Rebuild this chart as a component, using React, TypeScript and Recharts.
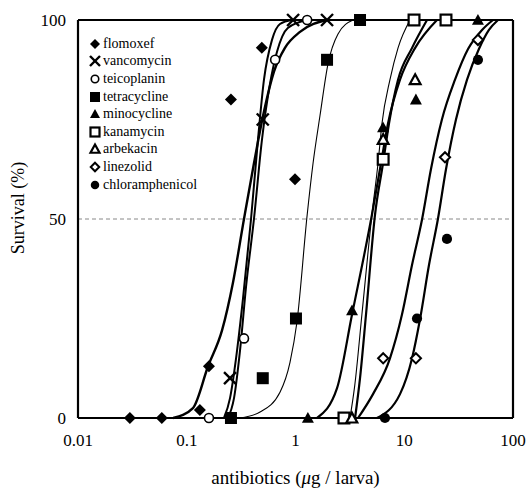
import React from "react";
import {
  ComposedChart,
  Line,
  Scatter,
  XAxis,
  YAxis,
  ReferenceLine,
  Legend,
  Label,
} from "recharts";

type Pt = { x: number; y: number };
const pts = (a: number[][]): Pt[] => a.map(([x, y]) => ({ x, y }));

// measured points (dose in µg/larva, survival %)
const flomoxefPts = pts([[0.03, 0], [0.059, 0], [0.132, 2], [0.16, 13], [0.255, 80], [0.49, 93], [0.99, 60]]);
const vancomycinPts = pts([[0.25, 10], [0.5, 75], [0.95, 100], [1.95, 100]]);
const teicoplaninPts = pts([[0.16, 0], [0.336, 20], [0.65, 90], [1.28, 100]]);
const tetracyclinePts = pts([[0.255, 0], [0.5, 10], [1.01, 25], [1.95, 90], [3.92, 100]]);
const minocyclinePts = pts([[1.3, 0], [3.31, 27], [6.38, 73], [12.8, 80], [47.6, 100]]);
const kanamycinPts = pts([[2.79, 0], [6.4, 65], [12.3, 100], [24.2, 100]]);
const arbekacinPts = pts([[3.3, 0], [6.4, 70], [12.6, 85]]);
const linezolidPts = pts([[6.4, 15], [12.8, 15], [23.7, 65.5], [47.6, 95]]);
const chloramphenicolPts = pts([[6.65, 0], [13.1, 25], [24.7, 45], [47.6, 90]]);

// fitted curves
const flomoxefFit = pts([[0.075, 0], [0.114, 2.5], [0.157, 13], [0.211, 22], [0.266, 34], [0.336, 50], [0.415, 64], [0.513, 77], [0.634, 87], [0.8, 93], [1.1, 97], [1.95, 100]]);
const vancomycinFit = pts([[0.22, 0], [0.25, 5], [0.284, 15], [0.329, 30], [0.39, 50], [0.452, 70], [0.513, 85], [0.608, 95], [0.72, 99], [0.93, 100]]);
const teicoplaninFit = pts([[0.239, 0], [0.272, 5], [0.309, 17], [0.351, 33], [0.415, 50], [0.492, 70], [0.583, 84], [0.676, 92], [0.85, 98], [1.28, 100]]);
const tetracyclineFit = pts([[0.309, 0], [0.472, 1.5], [0.72, 6.5], [0.89, 14], [1.03, 24], [1.28, 51], [1.45, 64], [1.68, 76], [1.99, 89], [2.46, 96.5], [3.38, 100]]);
const minocyclineFit = pts([[1.58, 0], [2.41, 7.5], [3.31, 26], [5.04, 51], [6.11, 64], [7.09, 74], [9.14, 85], [12.6, 93], [20.0, 100]]);
const kanamycinFit = pts([[3.17, 0], [3.5, 8], [4.08, 26], [5.04, 51], [5.74, 64], [6.24, 74], [7.39, 85], [8.77, 93], [11.3, 100]]);
const arbekacinFit = pts([[3.53, 0], [3.92, 10], [4.45, 26], [5.38, 51], [6.38, 64], [7.24, 74], [8.77, 85], [11.8, 93], [16.2, 100]]);
const linezolidFit = pts([[3.76, 0], [5.16, 6], [7.39, 15], [9.53, 26], [11.8, 38.5], [14.6, 50], [17.6, 62.5], [22.2, 75], [29.3, 85], [38.6, 92.7], [51.9, 97.5], [65.5, 100]]);
const chloramphenicolFit = pts([[5.61, 0], [9.14, 6], [11.8, 15], [14.0, 25], [16.9, 38.5], [20.4, 50], [24.2, 62.5], [29.9, 75], [37.8, 85], [48.6, 92.7], [60.1, 97.5], [72.8, 100]]);

const xTicks = [0.01, 0.1, 1, 10, 100];
const yTicks = [0, 50, 100];

type Kind =
  | "diamondFilled" | "x" | "circleOpen" | "squareFilled" | "triangleFilled"
  | "squareOpen" | "triangleOpen" | "diamondOpen" | "circleFilled";

const series: { name: string; kind: Kind; points: Pt[]; fit: Pt[]; width: number }[] = [
  { name: "flomoxef", kind: "diamondFilled", points: flomoxefPts, fit: flomoxefFit, width: 2.4 },
  { name: "vancomycin", kind: "x", points: vancomycinPts, fit: vancomycinFit, width: 2 },
  { name: "teicoplanin", kind: "circleOpen", points: teicoplaninPts, fit: teicoplaninFit, width: 2 },
  { name: "tetracycline", kind: "squareFilled", points: tetracyclinePts, fit: tetracyclineFit, width: 1.1 },
  { name: "minocycline", kind: "triangleFilled", points: minocyclinePts, fit: minocyclineFit, width: 2.2 },
  { name: "kanamycin", kind: "squareOpen", points: kanamycinPts, fit: kanamycinFit, width: 1.1 },
  { name: "arbekacin", kind: "triangleOpen", points: arbekacinPts, fit: arbekacinFit, width: 2.2 },
  { name: "linezolid", kind: "diamondOpen", points: linezolidPts, fit: linezolidFit, width: 2.2 },
  { name: "chloramphenicol", kind: "circleFilled", points: chloramphenicolPts, fit: chloramphenicolFit, width: 2.2 },
];

const FONT = "'Liberation Serif', 'Times New Roman', Times, serif";

const Marker = ({ kind, cx, cy, s }: { kind: Kind; cx: number; cy: number; s: number }) => {
  switch (kind) {
    case "diamondFilled":
      return <polygon points={`${cx},${cy - s} ${cx + s},${cy} ${cx},${cy + s} ${cx - s},${cy}`} fill="#000" />;
    case "diamondOpen":
      return <polygon points={`${cx},${cy - s * 0.85} ${cx + s * 0.85},${cy} ${cx},${cy + s * 0.85} ${cx - s * 0.85},${cy}`} fill="#fff" stroke="#000" strokeWidth={2} />;
    case "x":
      return (
        <g stroke="#000" strokeWidth={2.4}>
          <line x1={cx - s} y1={cy - s} x2={cx + s} y2={cy + s} />
          <line x1={cx - s} y1={cy + s} x2={cx + s} y2={cy - s} />
        </g>
      );
    case "circleOpen":
      return <circle cx={cx} cy={cy} r={s * 0.75} fill="#fff" stroke="#000" strokeWidth={1.6} />;
    case "circleFilled":
      return <circle cx={cx} cy={cy} r={s * 0.85} fill="#000" />;
    case "squareFilled":
      return <rect x={cx - s} y={cy - s} width={s * 2} height={s * 2} fill="#000" />;
    case "squareOpen":
      return <rect x={cx - s * 0.9} y={cy - s * 0.9} width={s * 1.8} height={s * 1.8} fill="#fff" stroke="#000" strokeWidth={2.2} />;
    case "triangleFilled":
      return <polygon points={`${cx},${cy - s} ${cx + s},${cy + s * 0.8} ${cx - s},${cy + s * 0.8}`} fill="#000" />;
    case "triangleOpen":
      return <polygon points={`${cx},${cy - s * 0.9} ${cx + s * 0.9},${cy + s * 0.75} ${cx - s * 0.9},${cy + s * 0.75}`} fill="#fff" stroke="#000" strokeWidth={2.2} />;
  }
  return null;
};

const LegendBox = () => (
  <div style={{ fontFamily: FONT, fontSize: 14, color: "#000" }}>
    {series.map((s) => (
      <div key={s.name} style={{ height: 17.6, display: "flex", alignItems: "center", whiteSpace: "nowrap" }}>
        <svg width={14} height={14} style={{ flex: "none" }}>
          <Marker kind={s.kind} cx={7} cy={7} s={5} />
        </svg>
        <span style={{ marginLeft: 1, fontFamily: FONT, fontSize: 14 }}>{s.name}</span>
      </div>
    ))}
  </div>
);

const XLabel = (props: any) => {
  const vb = props.viewBox;
  return (
    <text x={vb.x + vb.width / 2} y={vb.y + 66} textAnchor="middle" fontFamily={FONT} fontSize={19} fill="#000">
      antibiotics (<tspan fontStyle="italic">μ</tspan>g / larva)
    </text>
  );
};

const YLabel = (props: any) => {
  const vb = props.viewBox;
  const x = vb.x + 6;
  const y = vb.y + vb.height / 2 - 11;
  return (
    <text x={x} y={y} transform={`rotate(-90 ${x} ${y})`} textAnchor="middle" fontFamily={FONT} fontSize={18} fill="#000">
      Survival (%)
    </text>
  );
};

export default function App() {
  return (
    <div style={{ position: "absolute", left: 0, top: 0, background: "#fff" }}>
      <ComposedChart width={530} height={497} margin={{ top: 20, right: 17, left: 18, bottom: 0 }}>
        <XAxis
          dataKey="x"
          type="number"
          scale="log"
          domain={[0.01, 100]}
          ticks={xTicks}
          tickFormatter={(v: number) => String(v)}
          height={79}
          tickLine={false}
          tickSize={6}
          tickMargin={10}
          axisLine={{ stroke: "#000", strokeWidth: 2.2 }}
          tick={{ fill: "#000", fontSize: 17, fontFamily: FONT }}
        >
          <Label content={XLabel} />
        </XAxis>
        <YAxis
          dataKey="y"
          type="number"
          domain={[0, 100]}
          ticks={yTicks}
          width={60}
          tickLine={false}
          tickSize={6}
          tickMargin={6}
          axisLine={{ stroke: "#000", strokeWidth: 2.2 }}
          tick={{ fill: "#000", fontSize: 17, fontFamily: FONT }}
        >
          <Label content={YLabel} />
        </YAxis>
        <ReferenceLine y={50} stroke="#888" strokeDasharray="4 3" strokeWidth={1} />
        <ReferenceLine y={100} stroke="#000" strokeWidth={2.2} />
        <ReferenceLine x={100} stroke="#000" strokeWidth={2.2} />
        <Legend
          layout="vertical"
          align="center"
          verticalAlign="middle"
          content={LegendBox}
          wrapperStyle={{ position: "absolute", top: 35, left: 88, width: 130, fontFamily: FONT }}
        />
        {series.map((s) => (
          <Line
            key={"fit-" + s.name}
            data={s.fit}
            dataKey="y"
            type="monotone"
            stroke="#000"
            strokeWidth={s.width}
            dot={false}
            activeDot={false}
            legendType="none"
            isAnimationActive={false}
          />
        ))}
        {series.map((s) => (
          <Scatter
            key={"pts-" + s.name}
            name={s.name}
            data={s.points}
            dataKey="y"
            isAnimationActive={false}
            shape={(p: any) => <Marker kind={s.kind} cx={p.cx} cy={p.cy} s={6} />}
          />
        ))}
      </ComposedChart>
    </div>
  );
}
